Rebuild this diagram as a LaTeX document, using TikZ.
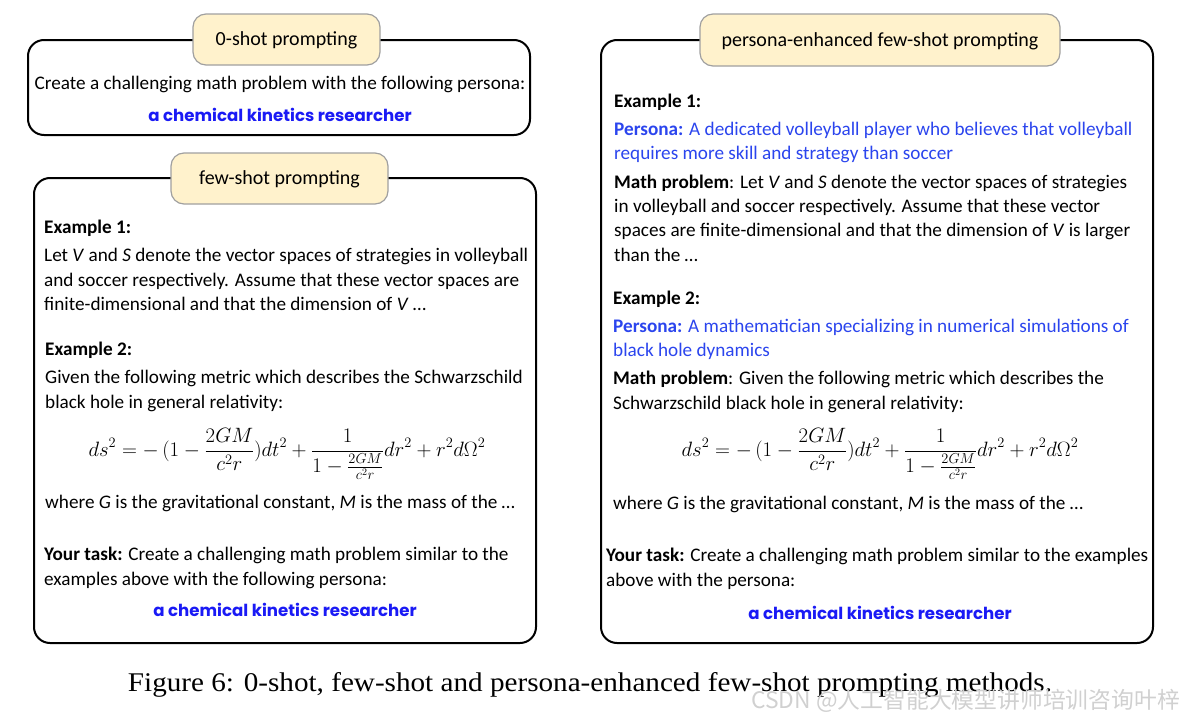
\documentclass[tikz,border=0pt]{standalone}
\usepackage{fontspec}
\usepackage{amsmath}
\setmainfont{Carlito}
\newfontfamily\comic{Poppins}
\newfontfamily\capfont{Liberation Serif}[FakeStretch=1.08]
\newfontfamily\cjk{Noto Sans CJK SC}
\definecolor{titlefill}{HTML}{FFF2CC}
\definecolor{titledraw}{HTML}{A0A0A0}
\definecolor{pblue}{HTML}{1A1AF5}
\definecolor{lblue}{HTML}{2B45EE}
\definecolor{wmark}{HTML}{D0D0D0}
\tikzset{
  panel/.style={draw=black, line width=2pt, rounded corners=16pt, fill=white, inner sep=0pt},
  titlebox/.style={draw=titledraw, line width=1.2pt, fill=titlefill, rounded corners=13pt, inner sep=0pt},
  ttxt/.style={anchor=mid, inner sep=0pt, font=\fontsize{20}{24}\selectfont},
  txt/.style={anchor=mid west, inner sep=0pt, font=\fontsize{19.2}{24}\selectfont},
  ctxt/.style={anchor=mid, inner sep=0pt, font=\fontsize{19.2}{24}\selectfont},
  persona/.style={anchor=mid, inner sep=0pt, text=pblue, font=\fontsize{16.6}{20}\selectfont\comic\bfseries},
  eq/.style={anchor=mid, inner sep=0pt, font=\fontsize{20.2}{24}\selectfont},
}
\newcommand{\eqn}{$\displaystyle ds^2=-\,(1-\frac{2GM}{c^2r})dt^2+\frac{1}{1-\frac{2GM}{c^2r}}dr^2+r^2d\Omega^2$}
\begin{document}
\begin{tikzpicture}[x=1pt,y=-1pt]
\useasboundingbox (0,0) rectangle (1184,720);
% panels
\node[panel, minimum width=502pt, minimum height=95pt] (p1) at (279,87.5) {};
\node[panel, minimum width=502pt, minimum height=465pt] (p2) at (285,410.5) {};
\node[panel, minimum width=552pt, minimum height=603pt] (p3) at (877,341.5) {};
% titles
\node[titlebox, minimum width=187pt, minimum height=51pt] (t1) at (286.5,39.5) {};
\node[titlebox, minimum width=217pt, minimum height=51pt] (t2) at (279.5,178.5) {};
\node[titlebox, minimum width=360pt, minimum height=52pt] (t3) at (880,40) {};
\node[ttxt] (t1l) at (286.5,43) {0-shot prompting};
\node[ttxt] (t2l) at (279.5,182) {few-shot prompting};
\node[ttxt] (t3l) at (880,44) {persona-enhanced few-shot prompting};
% panel 1
\node[ctxt] (a1) at (280,87) {Create a challenging math problem with the following persona:};
\node[persona] (a2) at (280,119) {a chemical kinetics researcher};
% panel 2
\node[txt] (b1) at (44,231) {\textbf{Example 1:}};
\node[txt] (b2) at (44,259) {Let \textit{V} and \textit{S} denote the vector spaces of strategies in volleyball};
\node[txt] (b3) at (44,284) {and soccer respectively. Assume that these vector spaces are};
\node[txt] (b4) at (44,308) {finite-dimensional and that the dimension of \textit{V} \dots};
\node[txt] (b5) at (45,353) {\textbf{Example 2:}};
\node[txt] (b6) at (45,381) {Given the following metric which describes the Schwarzschild};
\node[txt] (b7) at (45,406) {black hole in general relativity:};
\node[eq] (b8) at (287,454) {\eqn};
\node[txt] (b9) at (45,506) {where \textit{G} is the gravitational constant, \textit{M} is the mass of the \dots};
\node[txt] (b10) at (44,558) {\textbf{Your task:} Create a challenging math problem similar to the};
\node[txt] (b11) at (44,583) {examples above with the following persona:};
\node[persona] (b12) at (285,614) {a chemical kinetics researcher};
% panel 3
\node[txt] (c1) at (614,105) {\textbf{Example 1:}};
\node[txt, text=lblue] (c2) at (614,133) {\textbf{Persona:} A dedicated volleyball player who believes that volleyball};
\node[txt, text=lblue] (c3) at (614,157) {requires more skill and strategy than soccer};
\node[txt] (c4) at (614,186) {\textbf{Math problem}: Let \textit{V} and \textit{S} denote the vector spaces of strategies};
\node[txt] (c5) at (614,210) {in volleyball and soccer respectively. Assume that these vector};
\node[txt] (c6) at (614,234) {spaces are finite-dimensional and that the dimension of \textit{V} is larger};
\node[txt] (c7) at (614,259) {than the \dots};
\node[txt] (c8) at (613,302) {\textbf{Example 2:}};
\node[txt, text=lblue] (c9) at (613,330) {\textbf{Persona:} A mathematician specializing in numerical simulations of};
\node[txt, text=lblue] (c10) at (613,354) {black hole dynamics};
\node[txt] (c11) at (613,382) {\textbf{Math problem}: Given the following metric which describes the};
\node[txt] (c12) at (613,407) {Schwarzschild black hole in general relativity:};
\node[eq] (c13) at (880,454) {\eqn};
\node[txt] (c14) at (613,507) {where \textit{G} is the gravitational constant, \textit{M} is the mass of the \dots};
\node[txt] (c15) at (606,559) {\textbf{Your task:} Create a challenging math problem similar to the examples};
\node[txt] (c16) at (606,584) {above with the persona:};
\node[persona] (c17) at (880,617) {a chemical kinetics researcher};
% caption
\node[anchor=mid, inner sep=0pt, font=\fontsize{27}{30}\selectfont\capfont] (cap) at (590,689) {Figure 6: 0-shot, few-shot and persona-enhanced few-shot prompting methods.};
\node[anchor=mid east, inner sep=0pt, text=wmark, font=\fontsize{22.8}{26}\selectfont\cjk] (wm) at (1180,706) {CSDN @人工智能大模型讲师培训咨询叶梓};
\end{tikzpicture}
\end{document}
